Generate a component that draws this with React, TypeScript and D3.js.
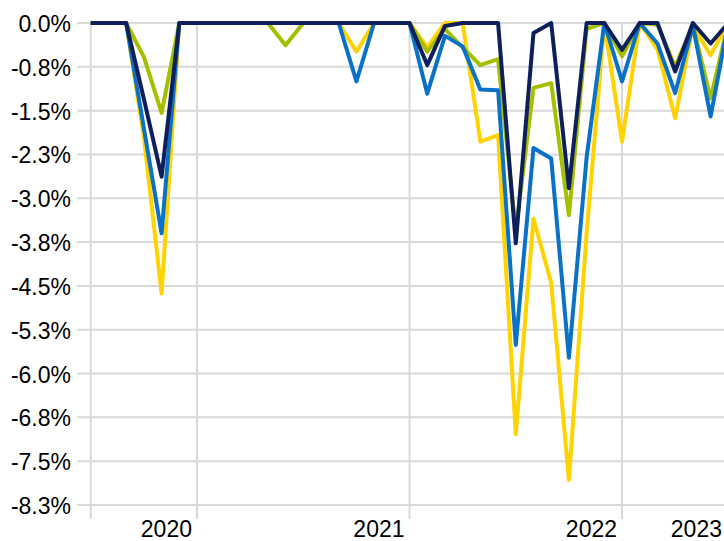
import React from 'react';
import * as d3 from 'd3';

// monthly observations, Jun 2020 .. Jun 2023
const months: string[] = d3
  .timeMonth.range(new Date(2020, 5, 1), new Date(2023, 6, 1))
  .map(d => d3.timeFormat('%Y-%m')(d));

const yellowSeries = [
  0, 0, 0, -1.95, -4.63, 0, 0, 0, 0, 0, 0, 0, 0, 0, 0, -0.49, 0, 0, 0,
  -0.42, 0, 0, -2.03, -1.92, -7.04, -3.35, -4.45, -7.82, -3.6, 0, -2.03, 0,
  -0.45, -1.63, -0.05, -0.55, 0,
];
const greenSeries = [
  0, 0, 0, -0.58, -1.54, 0, 0, 0, 0, 0, 0, -0.38, 0, 0, 0, 0, 0, 0, 0,
  -0.49, -0.1, -0.42, -0.72, -0.62, -3.55, -1.11, -1.03, -3.29, -0.1, 0, -0.57, 0,
  -0.03, -0.75, -0.03, -1.29, 0,
];
const blueSeries = [
  0, 0, 0, -1.8, -3.6, 0, 0, 0, 0, 0, 0, 0, 0, 0, 0, -1.0, 0, 0, 0,
  -1.21, -0.22, -0.4, -1.14, -1.15, -5.51, -2.14, -2.32, -5.73, -2.3, 0, -1.0, 0,
  -0.35, -1.2, -0.05, -1.6, 0,
];
const navySeries = [
  0, 0, 0, -1.3, -2.63, 0, 0, 0, 0, 0, 0, 0, 0, 0, 0, 0, 0, 0, 0,
  -0.72, -0.05, 0, 0, 0, -3.77, -0.17, 0, -2.83, 0, 0, -0.46, 0,
  0, -0.83, 0, -0.35, 0,
];

const yTicks = [0, -0.75, -1.5, -2.25, -3, -3.75, -4.5, -5.25, -6, -6.75, -7.5, -8.25];
const yearLabels = ['2020', '2021', '2022', '2023'];
const yearTickMonths = ['2020-12', '2021-12', '2022-12', '2023-06'];
const yearGridMonths = ['2020-06', '2020-12', '2021-12', '2022-12'];

const series = [
  { name: 'yellow', values: yellowSeries, color: '#FFD200' },
  { name: 'green', values: greenSeries, color: '#A5BF00' },
  { name: 'blue', values: blueSeries, color: '#0A72C6' },
  { name: 'navy', values: navySeries, color: '#0E1F5C' },
];

const W = 724;
const H = 541;
const plot = { left: 90.75, right: 728.3, top: 23, bottom: 505 };
const font = 'Arial, "Liberation Sans", Helvetica, sans-serif';

const App: React.FC = () => {
  const x = d3.scalePoint<string>().domain(months).range([plot.left, plot.right]);
  const y = d3.scaleLinear().domain([-8.25, 0]).range([plot.bottom, plot.top]);

  const line = d3
    .line<number>()
    .x((_, i) => x(months[i]) ?? 0)
    .y(d => y(d));

  return (
    <div style={{ position: 'absolute', left: 0, top: 0 }}>
      <svg width={W} height={H} style={{ display: 'block', background: '#fff' }}>
        {/* horizontal grid + y labels */}
        {yTicks.map(t => (
          <g key={t}>
            <line x1={77} x2={W} y1={y(t)} y2={y(t)} stroke="#d9d9d9" strokeWidth={2} />
            <text
              x={71}
              y={y(t) + 9}
              textAnchor="end"
              fontFamily={font}
              fontSize={23}
              fill="#000"
            >
              {t.toFixed(1) === '-0.0' ? '0.0' : t.toFixed(1)}%
            </text>
          </g>
        ))}

        {/* vertical grid with tick marks below axis */}
        {yearGridMonths.map(m => (
          <line
            key={m}
            x1={x(m)}
            x2={x(m)}
            y1={plot.top}
            y2={plot.bottom + 14}
            stroke="#d9d9d9"
            strokeWidth={2}
          />
        ))}

        {/* year labels */}
        {yearLabels.map((lab, i) => (
          <text
            key={lab}
            x={Math.min((x(yearTickMonths[i]) ?? 0) - 5, W - 2)}
            y={537}
            textAnchor="end"
            fontFamily={font}
            fontSize={23}
            fill="#000"
          >
            {lab}
          </text>
        ))}

        {series.map(s => (
          <path
            key={s.name}
            d={line(s.values) ?? ''}
            fill="none"
            stroke={s.color}
            strokeWidth={4}
            strokeLinejoin="round"
          />
        ))}
      </svg>
    </div>
  );
};

export default App;
